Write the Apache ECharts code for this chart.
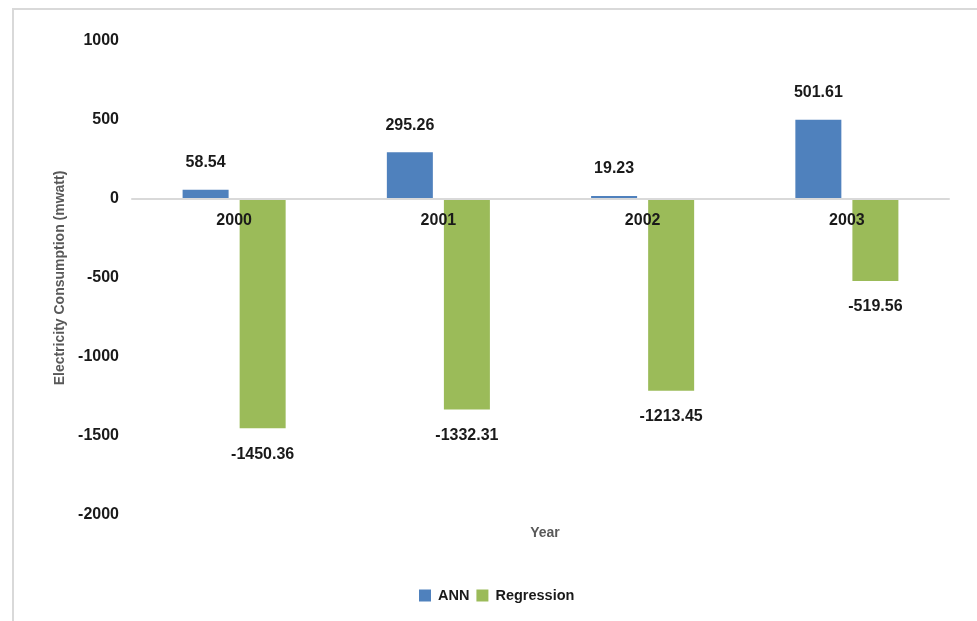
<!DOCTYPE html>
<html>
<head>
<meta charset="utf-8">
<script src="https://cdn.jsdelivr.net/npm/echarts@6/dist/echarts.min.js"></script>
<style>html,body{margin:0;padding:0;background:#fff;}#c{width:977px;height:621px;}</style>
</head>
<body>
<div id="c"></div>
<script>
const categories = ['2000', '2001', '2002', '2003'];
const annValues = [58.54, 295.26, 19.23, 501.61];
const regressionValues = [-1450.36, -1332.31, -1213.45, -519.56];
const yTicks = { min: -2000, max: 1000, interval: 500 };

const FONT = "'Liberation Sans', Arial, sans-serif";
const chart = echarts.init(document.getElementById('c'), null, { renderer: 'canvas' });
chart.setOption({
  backgroundColor: '#fff',
  animation: false,
  textStyle: { fontFamily: FONT },
  graphic: [{
    type: 'rect', z: -1,
    shape: { x: 13, y: 9, width: 1000, height: 700 },
    style: { fill: 'none', stroke: '#d9d9d9', lineWidth: 2 }
  }],
  title: {
    text: 'Year', left: 540, top: 521, textAlign: 'center',
    textStyle: { fontFamily: FONT, fontSize: 14, fontWeight: 'bold', color: '#595959' }
  },
  legend: {
    data: ['ANN', 'Regression'],
    left: 414, top: 583,
    itemWidth: 12, itemHeight: 12, itemGap: 7,
    icon: 'rect',
    textStyle: { fontFamily: FONT, fontSize: 14.5, fontWeight: 'bold', color: '#1a1a1a', padding: [0, 0, 0, 2] }
  },
  grid: { left: 132, right: 28, top: 41, bottom: 106, containLabel: false },
  xAxis: {
    type: 'category',
    data: categories,
    position: 'bottom',
    offset: -316,
    z: 10,
    axisLine: { onZero: false, lineStyle: { color: '#d9d9d9', width: 2 } },
    axisTick: { show: false },
    axisLabel: { fontFamily: FONT, fontSize: 16, fontWeight: 'bold', color: '#1a1a1a', margin: 14 },
    splitLine: { show: false }
  },
  yAxis: {
    type: 'value',
    min: yTicks.min, max: yTicks.max, interval: yTicks.interval,
    name: 'Electricity Consumption (mwatt)',
    nameLocation: 'middle', nameGap: 61,
    nameTextStyle: { fontFamily: FONT, fontSize: 14, fontWeight: 'bold', color: '#595959' },
    axisLine: { show: false },
    axisTick: { show: false },
    splitLine: { show: false },
    axisLabel: { fontFamily: FONT, fontSize: 16, fontWeight: 'bold', color: '#1a1a1a', margin: 13, formatter: v => String(v) }
  },
  series: [
    {
      name: 'ANN', type: 'bar', data: annValues,
      barWidth: 46, barGap: '24%',
      itemStyle: { color: '#4f81bd' },
      label: { show: true, position: 'top', distance: 19, fontFamily: FONT, fontSize: 16, fontWeight: 'bold', color: '#1a1a1a', formatter: p => p.value.toFixed(2) }
    },
    {
      name: 'Regression', type: 'bar', data: regressionValues,
      barWidth: 46,
      itemStyle: { color: '#9bbb59' },
      label: { show: true, position: 'bottom', distance: 18, fontFamily: FONT, fontSize: 16, fontWeight: 'bold', color: '#1a1a1a', formatter: p => p.value.toFixed(2) }
    }
  ]
});
</script>
</body>
</html>
